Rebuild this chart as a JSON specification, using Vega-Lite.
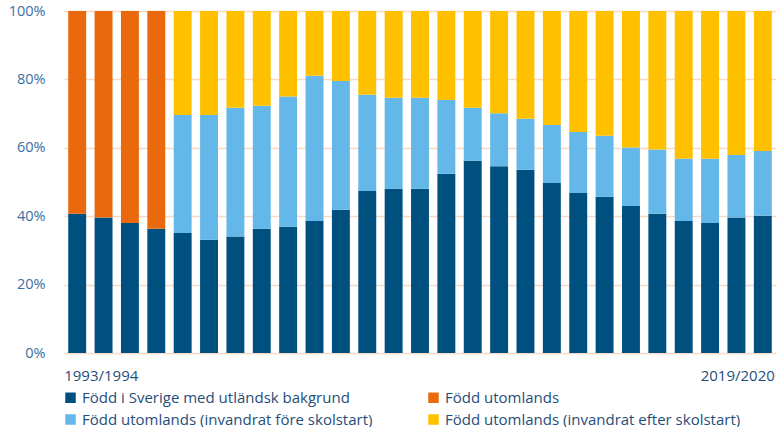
{
  "$schema": "https://vega.github.io/schema/vega-lite/v6.json",
  "width": 712,
  "height": 342,
  "autosize": {"type": "none"},
  "padding": {"left": 64, "top": 11, "right": 4, "bottom": 74},
  "background": "white",
  "config": {
    "font": "Open Sans",
    "view": {"stroke": null}
  },
  "data": {
    "values": [
      {"ar": "1993/1994", "grupp": "Född i Sverige med utländsk bakgrund", "k": 1, "andel": 40.7},
      {"ar": "1993/1994", "grupp": "Född utomlands", "k": 2, "andel": 59.3},
      {"ar": "1994/1995", "grupp": "Född i Sverige med utländsk bakgrund", "k": 1, "andel": 39.6},
      {"ar": "1994/1995", "grupp": "Född utomlands", "k": 2, "andel": 60.4},
      {"ar": "1995/1996", "grupp": "Född i Sverige med utländsk bakgrund", "k": 1, "andel": 38.0},
      {"ar": "1995/1996", "grupp": "Född utomlands", "k": 2, "andel": 62.0},
      {"ar": "1996/1997", "grupp": "Född i Sverige med utländsk bakgrund", "k": 1, "andel": 36.3},
      {"ar": "1996/1997", "grupp": "Född utomlands", "k": 2, "andel": 63.7},
      {"ar": "1997/1998", "grupp": "Född i Sverige med utländsk bakgrund", "k": 1, "andel": 35.1},
      {"ar": "1997/1998", "grupp": "Född utomlands (invandrat före skolstart)", "k": 3, "andel": 34.5},
      {"ar": "1997/1998", "grupp": "Född utomlands (invandrat efter skolstart)", "k": 4, "andel": 30.4},
      {"ar": "1998/1999", "grupp": "Född i Sverige med utländsk bakgrund", "k": 1, "andel": 33.1},
      {"ar": "1998/1999", "grupp": "Född utomlands (invandrat före skolstart)", "k": 3, "andel": 36.5},
      {"ar": "1998/1999", "grupp": "Född utomlands (invandrat efter skolstart)", "k": 4, "andel": 30.4},
      {"ar": "1999/2000", "grupp": "Född i Sverige med utländsk bakgrund", "k": 1, "andel": 34.1},
      {"ar": "1999/2000", "grupp": "Född utomlands (invandrat före skolstart)", "k": 3, "andel": 37.6},
      {"ar": "1999/2000", "grupp": "Född utomlands (invandrat efter skolstart)", "k": 4, "andel": 28.3},
      {"ar": "2000/2001", "grupp": "Född i Sverige med utländsk bakgrund", "k": 1, "andel": 36.3},
      {"ar": "2000/2001", "grupp": "Född utomlands (invandrat före skolstart)", "k": 3, "andel": 36.0},
      {"ar": "2000/2001", "grupp": "Född utomlands (invandrat efter skolstart)", "k": 4, "andel": 27.7},
      {"ar": "2001/2002", "grupp": "Född i Sverige med utländsk bakgrund", "k": 1, "andel": 36.9},
      {"ar": "2001/2002", "grupp": "Född utomlands (invandrat före skolstart)", "k": 3, "andel": 38.1},
      {"ar": "2001/2002", "grupp": "Född utomlands (invandrat efter skolstart)", "k": 4, "andel": 25.0},
      {"ar": "2002/2003", "grupp": "Född i Sverige med utländsk bakgrund", "k": 1, "andel": 38.6},
      {"ar": "2002/2003", "grupp": "Född utomlands (invandrat före skolstart)", "k": 3, "andel": 42.5},
      {"ar": "2002/2003", "grupp": "Född utomlands (invandrat efter skolstart)", "k": 4, "andel": 18.9},
      {"ar": "2003/2004", "grupp": "Född i Sverige med utländsk bakgrund", "k": 1, "andel": 41.9},
      {"ar": "2003/2004", "grupp": "Född utomlands (invandrat före skolstart)", "k": 3, "andel": 37.6},
      {"ar": "2003/2004", "grupp": "Född utomlands (invandrat efter skolstart)", "k": 4, "andel": 20.5},
      {"ar": "2004/2005", "grupp": "Född i Sverige med utländsk bakgrund", "k": 1, "andel": 47.4},
      {"ar": "2004/2005", "grupp": "Född utomlands (invandrat före skolstart)", "k": 3, "andel": 28.1},
      {"ar": "2004/2005", "grupp": "Född utomlands (invandrat efter skolstart)", "k": 4, "andel": 24.5},
      {"ar": "2005/2006", "grupp": "Född i Sverige med utländsk bakgrund", "k": 1, "andel": 48.0},
      {"ar": "2005/2006", "grupp": "Född utomlands (invandrat före skolstart)", "k": 3, "andel": 26.6},
      {"ar": "2005/2006", "grupp": "Född utomlands (invandrat efter skolstart)", "k": 4, "andel": 25.4},
      {"ar": "2006/2007", "grupp": "Född i Sverige med utländsk bakgrund", "k": 1, "andel": 48.0},
      {"ar": "2006/2007", "grupp": "Född utomlands (invandrat före skolstart)", "k": 3, "andel": 26.6},
      {"ar": "2006/2007", "grupp": "Född utomlands (invandrat efter skolstart)", "k": 4, "andel": 25.4},
      {"ar": "2007/2008", "grupp": "Född i Sverige med utländsk bakgrund", "k": 1, "andel": 52.4},
      {"ar": "2007/2008", "grupp": "Född utomlands (invandrat före skolstart)", "k": 3, "andel": 21.6},
      {"ar": "2007/2008", "grupp": "Född utomlands (invandrat efter skolstart)", "k": 4, "andel": 26.0},
      {"ar": "2008/2009", "grupp": "Född i Sverige med utländsk bakgrund", "k": 1, "andel": 56.2},
      {"ar": "2008/2009", "grupp": "Född utomlands (invandrat före skolstart)", "k": 3, "andel": 15.5},
      {"ar": "2008/2009", "grupp": "Född utomlands (invandrat efter skolstart)", "k": 4, "andel": 28.3},
      {"ar": "2009/2010", "grupp": "Född i Sverige med utländsk bakgrund", "k": 1, "andel": 54.6},
      {"ar": "2009/2010", "grupp": "Född utomlands (invandrat före skolstart)", "k": 3, "andel": 15.5},
      {"ar": "2009/2010", "grupp": "Född utomlands (invandrat efter skolstart)", "k": 4, "andel": 29.9},
      {"ar": "2010/2011", "grupp": "Född i Sverige med utländsk bakgrund", "k": 1, "andel": 53.6},
      {"ar": "2010/2011", "grupp": "Född utomlands (invandrat före skolstart)", "k": 3, "andel": 14.9},
      {"ar": "2010/2011", "grupp": "Född utomlands (invandrat efter skolstart)", "k": 4, "andel": 31.5},
      {"ar": "2011/2012", "grupp": "Född i Sverige med utländsk bakgrund", "k": 1, "andel": 49.7},
      {"ar": "2011/2012", "grupp": "Född utomlands (invandrat före skolstart)", "k": 3, "andel": 17.0},
      {"ar": "2011/2012", "grupp": "Född utomlands (invandrat efter skolstart)", "k": 4, "andel": 33.3},
      {"ar": "2012/2013", "grupp": "Född i Sverige med utländsk bakgrund", "k": 1, "andel": 46.8},
      {"ar": "2012/2013", "grupp": "Född utomlands (invandrat före skolstart)", "k": 3, "andel": 17.8},
      {"ar": "2012/2013", "grupp": "Född utomlands (invandrat efter skolstart)", "k": 4, "andel": 35.4},
      {"ar": "2013/2014", "grupp": "Född i Sverige med utländsk bakgrund", "k": 1, "andel": 45.7},
      {"ar": "2013/2014", "grupp": "Född utomlands (invandrat före skolstart)", "k": 3, "andel": 17.8},
      {"ar": "2013/2014", "grupp": "Född utomlands (invandrat efter skolstart)", "k": 4, "andel": 36.5},
      {"ar": "2014/2015", "grupp": "Född i Sverige med utländsk bakgrund", "k": 1, "andel": 43.0},
      {"ar": "2014/2015", "grupp": "Född utomlands (invandrat före skolstart)", "k": 3, "andel": 17.1},
      {"ar": "2014/2015", "grupp": "Född utomlands (invandrat efter skolstart)", "k": 4, "andel": 39.9},
      {"ar": "2015/2016", "grupp": "Född i Sverige med utländsk bakgrund", "k": 1, "andel": 40.7},
      {"ar": "2015/2016", "grupp": "Född utomlands (invandrat före skolstart)", "k": 3, "andel": 18.8},
      {"ar": "2015/2016", "grupp": "Född utomlands (invandrat efter skolstart)", "k": 4, "andel": 40.5},
      {"ar": "2016/2017", "grupp": "Född i Sverige med utländsk bakgrund", "k": 1, "andel": 38.6},
      {"ar": "2016/2017", "grupp": "Född utomlands (invandrat före skolstart)", "k": 3, "andel": 18.2},
      {"ar": "2016/2017", "grupp": "Född utomlands (invandrat efter skolstart)", "k": 4, "andel": 43.2},
      {"ar": "2017/2018", "grupp": "Född i Sverige med utländsk bakgrund", "k": 1, "andel": 38.0},
      {"ar": "2017/2018", "grupp": "Född utomlands (invandrat före skolstart)", "k": 3, "andel": 18.8},
      {"ar": "2017/2018", "grupp": "Född utomlands (invandrat efter skolstart)", "k": 4, "andel": 43.2},
      {"ar": "2018/2019", "grupp": "Född i Sverige med utländsk bakgrund", "k": 1, "andel": 39.6},
      {"ar": "2018/2019", "grupp": "Född utomlands (invandrat före skolstart)", "k": 3, "andel": 18.3},
      {"ar": "2018/2019", "grupp": "Född utomlands (invandrat efter skolstart)", "k": 4, "andel": 42.1},
      {"ar": "2019/2020", "grupp": "Född i Sverige med utländsk bakgrund", "k": 1, "andel": 40.1},
      {"ar": "2019/2020", "grupp": "Född utomlands (invandrat före skolstart)", "k": 3, "andel": 19.0},
      {"ar": "2019/2020", "grupp": "Född utomlands (invandrat efter skolstart)", "k": 4, "andel": 40.9}
    ]
  },
  "mark": {"type": "bar"},
  "encoding": {
    "x": {
      "field": "ar",
      "type": "ordinal",
      "sort": null,
      "scale": {"paddingInner": 0.32, "paddingOuter": 0.16},
      "axis": {
        "title": null,
        "labelAngle": 0,
        "ticks": false,
        "domain": false,
        "labelFlush": false,
        "labelOverlap": false,
        "labelBound": false,
        "labelPadding": 15,
        "labelFontSize": 15,
        "labelColor": "#1F4E79",
        "labelAlign": {"condition": {"test": "datum.value == '1993/1994'", "value": "left"}, "value": "right"},
        "labelOffset": {"condition": {"test": "datum.value == '1993/1994'", "value": -13}, "value": 12},
        "labelExpr": "datum.value == '1993/1994' || datum.value == '2019/2020' ? datum.value : ''"
      }
    },
    "y": {
      "field": "andel",
      "type": "quantitative",
      "stack": "zero",
      "scale": {"domain": [0, 100], "nice": false},
      "axis": {
        "title": null,
        "values": [0, 20, 40, 60, 80, 100],
        "labelExpr": "datum.value + '%'",
        "ticks": false,
        "domain": false,
        "labelPadding": 19,
        "labelFontSize": 14.5,
        "labelColor": "#3B6FA3",
        "gridColor": "#F8D9C4",
        "gridWidth": 1.5
      }
    },
    "order": {"field": "k", "type": "quantitative", "sort": "ascending"},
    "color": {
      "field": "grupp",
      "type": "nominal",
      "scale": {
        "domain": [
          "Född i Sverige med utländsk bakgrund",
          "Född utomlands",
          "Född utomlands (invandrat före skolstart)",
          "Född utomlands (invandrat efter skolstart)"
        ],
        "range": ["#00507F", "#E9690C", "#63B8E9", "#FFC000"]
      },
      "legend": {
        "title": null,
        "orient": "none",
        "direction": "horizontal",
        "legendX": -1,
        "legendY": 379,
        "columns": 2,
        "columnPadding": 53,
        "rowPadding": 6,
        "symbolType": "square",
        "symbolSize": 110,
        "symbolStrokeWidth": 0,
        "symbolOpacity": 1,
        "labelFontSize": 15,
        "labelColor": "#1F4E79",
        "labelOffset": 4,
        "labelLimit": 400
      }
    }
  }
}
